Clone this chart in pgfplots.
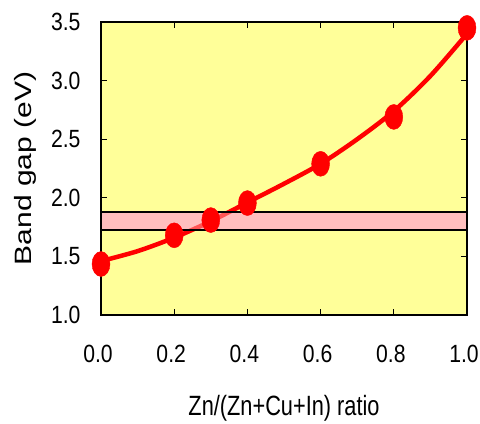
\documentclass[border=0pt]{standalone}
\usepackage{pgfplots}
\pgfplotsset{compat=1.18}
\usepackage{fontspec}
\setmainfont{Liberation Sans}
\newfontfamily\tickfont{Liberation Sans}[FakeStretch=0.85]
\newfontfamily\xlfont{Liberation Sans}[FakeStretch=0.78]
\newfontfamily\ylfont{Liberation Sans}[FakeStretch=1.27]
\definecolor{bgyellow}{RGB}{255,255,153}
\definecolor{bandpink}{RGB}{255,190,190}
\begin{document}
\begin{tikzpicture}[x=1bp,y=1bp]
\path[use as bounding box] (0,0) rectangle (480,423);
\begin{axis}[
  at={(101bp,108bp)}, anchor=south west,
  scale only axis, width=366bp, height=293bp,
  xmin=0, xmax=1, ymin=1, ymax=3.5,
  xtick={0,0.2,0.4,0.6,0.8,1.0},
  ytick={1.0,1.5,2.0,2.5,3.0,3.5},
  tick align=inside, major tick length=6bp,
  tick style={black, line width=1.2bp},
  /pgf/number format/assume math mode=true,
  /pgf/number format/.cd, fixed, fixed zerofill, precision=1, /pgfplots/.cd,
  ticklabel style={font=\tickfont\fontsize{25}{25}\selectfont},
  xticklabel style={yshift=-27bp, xshift=-3bp},
  yticklabel style={xshift=-17bp},
  axis background/.style={fill=bgyellow},
  axis line style={black, line width=2.5bp},
  clip=false,
  xlabel={Zn/(Zn+Cu+In) ratio},
  ylabel={Band gap (eV)},
  xlabel style={font=\xlfont\fontsize{28}{28}\selectfont, at={(axis description cs:0.5,-0.317)}, anchor=center},
  ylabel style={font=\ylfont\fontsize{23.7}{24}\selectfont, at={(axis description cs:-0.2077,0.5)}, anchor=center, rotate=0},
]
\addplot[draw=none, fill=bandpink] coordinates {
  (0,1.725) (1,1.725) (1,1.88) (0,1.88)
} -- cycle;
\addplot[red, line width=4.5bp, smooth, tension=0.5] coordinates {
  (0,1.46) (0.1,1.545) (0.2,1.66) (0.3,1.80) (0.4,1.96) (0.5,2.12)
  (0.6,2.29) (0.7,2.50) (0.8,2.74) (0.9,3.04) (1.0,3.40)
};
\addplot[only marks, mark=*, mark size=12.5bp, mark options={xscale=0.72, fill=red, draw=red}] coordinates {
  (0,1.435) (0.2,1.68) (0.3,1.81) (0.4,1.955) (0.6,2.29) (0.8,2.69) (1.0,3.45)
};
\addplot[draw=black, line width=1.5bp, fill=bandpink, fill opacity=0.45] coordinates {
  (0,1.725) (1,1.725) (1,1.88) (0,1.88)
} -- cycle;
\end{axis}
\end{tikzpicture}
\end{document}
